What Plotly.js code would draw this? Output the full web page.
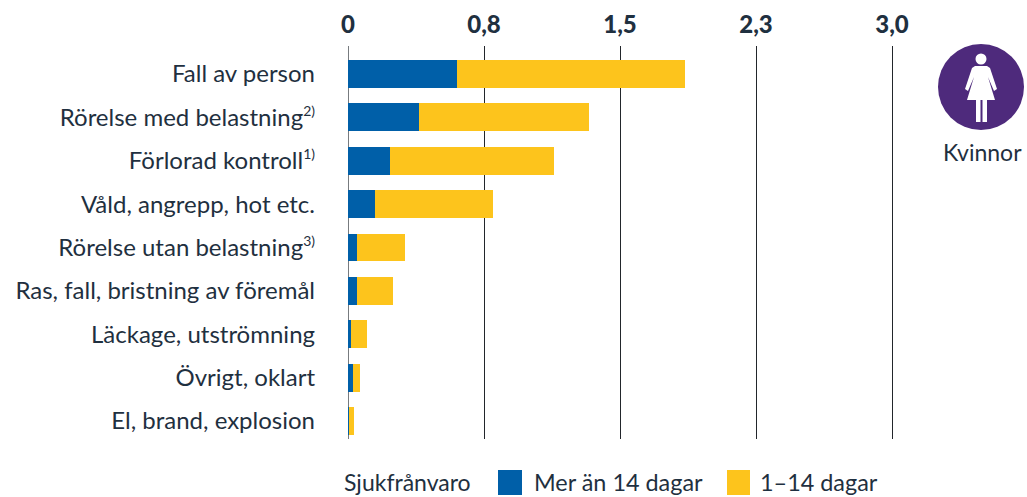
<!DOCTYPE html>
<html><head><meta charset="utf-8">
<script src="https://cdn.plot.ly/plotly-3.0.1.min.js"></script>
<style>html,body{margin:0;padding:0;background:#fff}</style></head>
<body><div id="chart" style="width:1027px;height:497px"></div>
<script>
const sup=t=>'<sup><span style="font-size:14px">'+t+'</span></sup>';
const categories = ["Fall av person","Rörelse med belastning"+sup("2)"),"Förlorad kontroll"+sup("1)"),"Våld, angrepp, hot etc.","Rörelse utan belastning"+sup("3)"),"Ras, fall, bristning av föremål","Läckage, utströmning","Övrigt, oklart","El, brand, explosion"];
const longAbsence = [0.60,0.39,0.23,0.15,0.05,0.05,0.017,0.03,0.008];
const shortAbsence = [1.257,0.94,0.905,0.65,0.265,0.2,0.088,0.036,0.025];
const tickVals = [0,0.75,1.5,2.25,3.0];
const tickText = ["0","0,8","1,5","2,3","3,0"];

const W=1027,H=497,L=348,T=46,B=58;
const px=x=>(x-L)/(W-L), py=y=>1-(y-T)/(H-T-B);
const ink="#1f3040", FONT="Lato, sans-serif";
const pth=pts=>pts.map((p,i)=>(i?"L":"M")+px(p[0]).toFixed(5)+" "+py(p[1]).toFixed(5)).join(" ")+" Z";
const rect=(x0,y0,x1,y1,c)=>({type:"rect",xref:"paper",yref:"paper",x0:px(x0),x1:px(x1),y0:py(y0),y1:py(y1),fillcolor:c,line:{width:0}});
const circ=(cx,cy,r,c)=>({type:"circle",xref:"paper",yref:"paper",x0:px(cx-r),x1:px(cx+r),y0:py(cy-r),y1:py(cy+r),fillcolor:c,line:{width:0}});
const poly=(pts,c)=>({type:"path",xref:"paper",yref:"paper",path:pth(pts),fillcolor:c,line:{width:0}});
const txt=(x,y,t,anchor,size)=>({xref:"paper",yref:"paper",x:px(x),y:py(y),text:t,showarrow:false,xanchor:anchor,yanchor:"middle",borderpad:0,font:{family:FONT,size:size,color:ink}});

const traces=[
 {type:"bar",orientation:"h",name:"Mer än 14 dagar",y:categories,x:longAbsence,marker:{color:"#005fa8"}},
 {type:"bar",orientation:"h",name:"1–14 dagar",y:categories,x:shortAbsence,marker:{color:"#fdc41c"}}
];
const layout={
 width:W,height:H,margin:{l:L,r:0,t:T,b:B,pad:0},paper_bgcolor:"#fff",plot_bgcolor:"#fff",
 barmode:"stack",bargap:0.355,showlegend:false,
 xaxis:{side:"top",range:[0,(W-L)/(136/0.75)],tickmode:"array",tickvals:tickVals,ticktext:tickText,
  showgrid:true,gridcolor:"#22262b",gridwidth:1,zeroline:false,showline:false,ticks:"",
  ticklabelstandoff:7,tickfont:{family:FONT,size:24,color:ink,weight:900}},
 yaxis:{type:"category",categoryorder:"array",categoryarray:categories,range:[8.415,-0.645],showgrid:false,
  zeroline:false,showline:false,ticks:"",ticklabelstandoff:32,tickfont:{family:FONT,size:24,color:ink}},
 shapes:[
  {type:"line",xref:"x",yref:"paper",x0:0,x1:0,y0:0,y1:1,line:{color:"#4a4f55",width:1.5},layer:"below"},
  rect(498,470,522,495,"#005fa8"),rect(727,470,750,495,"#fdc41c"),
  circ(981,87,43,"#4e2a7c"),circ(981,59,5.5,"#fff"),
  poly([[975,66],[987,66],[990,68],[997,89],[994,91],[988,77],[995,100],[967,100],[974,77],[968,91],[965,89],[972,68]],"#fff"),
  rect(976,100,980.5,122,"#fff"),rect(982.5,100,987,122,"#fff")
 ],
 annotations:[
  txt(343,482.5,"Sjukfrånvaro","left",23),txt(533,482.5,"Mer än 14 dagar","left",23.4),txt(759,482.5,"1–14 dagar","left",23.4),
  txt(982,152,"Kvinnor","center",23)
 ]
};
Plotly.newPlot("chart",traces,layout,{displayModeBar:false,responsive:false});
</script></body></html>
